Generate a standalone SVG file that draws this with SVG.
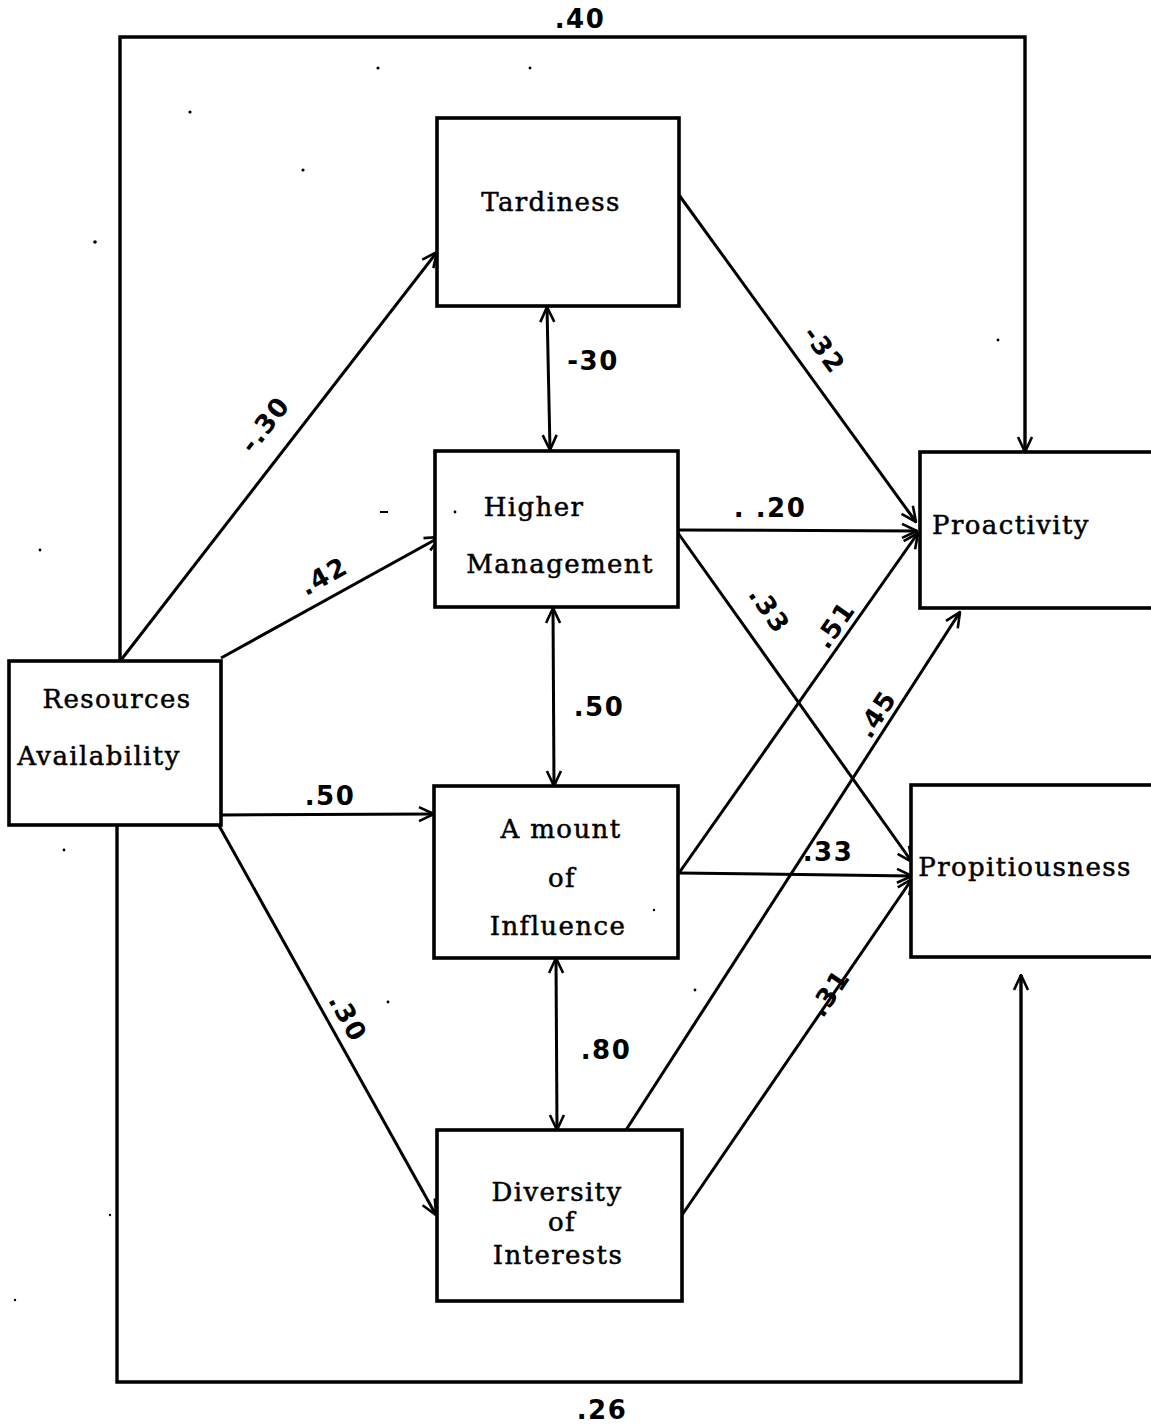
<svg xmlns="http://www.w3.org/2000/svg" width="1151" height="1425" viewBox="0 0 1151 1425">
  <style>
    .box { fill: #fff; stroke: #000; stroke-width: 3.6; }
    .name { font-family: "DejaVu Serif", "Liberation Serif", serif; font-size: 26px; fill: #000; stroke: #000; stroke-width: 0.5; text-anchor: middle; letter-spacing: 1.4px; }
    .edge { fill: none; stroke: #000; stroke-width: 3; }
    .loop { fill: none; stroke: #000; stroke-width: 3.4; }
    .num { font-family: "DejaVu Sans", "Liberation Sans", sans-serif; font-size: 26px; font-weight: bold; fill: #000; text-anchor: middle; letter-spacing: 1.5px; }
    .speck { fill: #000; }
  </style>
  <defs>
    <marker id="head" viewBox="0 0 18 18" refX="17" refY="9" markerWidth="18" markerHeight="18" markerUnits="userSpaceOnUse" orient="auto-start-reverse">
      <path d="M2,2 L17,9 L2,16" fill="none" stroke="#000" stroke-width="2.6"/>
    </marker>
  </defs>

  <rect width="1151" height="1425" fill="#fff"/>

  <!-- connectors -->
  <g id="connectors">
    <!-- outer paths -->
    <polyline class="loop" points="120,660 120,37 1025,37 1025,452" marker-end="url(#head)"/>
    <polyline class="loop" points="117,825 117,1382 1021,1382 1021,975" marker-end="url(#head)"/>
    <!-- from Resources Availability -->
    <line class="edge" x1="121" y1="660" x2="437" y2="252" marker-end="url(#head)"/>
    <line class="edge" x1="221" y1="658" x2="440" y2="537" marker-end="url(#head)"/>
    <line class="edge" x1="221" y1="815" x2="434" y2="814" marker-end="url(#head)"/>
    <line class="edge" x1="217" y1="822" x2="436" y2="1215" marker-end="url(#head)"/>
    <!-- correlations between mediators -->
    <line class="edge" x1="547" y1="307" x2="550" y2="450" marker-start="url(#head)" marker-end="url(#head)"/>
    <line class="edge" x1="553" y1="608" x2="554" y2="786" marker-start="url(#head)" marker-end="url(#head)"/>
    <line class="edge" x1="556" y1="958" x2="557" y2="1130" marker-start="url(#head)" marker-end="url(#head)"/>
    <!-- into the outcomes -->
    <line class="edge" x1="679" y1="195" x2="916" y2="522" marker-end="url(#head)"/>
    <line class="edge" x1="678" y1="530" x2="917" y2="531" marker-end="url(#head)"/>
    <line class="edge" x1="678" y1="533" x2="912" y2="862" marker-end="url(#head)"/>
    <line class="edge" x1="679" y1="873" x2="918" y2="533" marker-end="url(#head)"/>
    <line class="edge" x1="679" y1="873" x2="912" y2="876" marker-end="url(#head)"/>
    <line class="edge" x1="626" y1="1130" x2="960" y2="612" marker-end="url(#head)"/>
    <line class="edge" x1="682" y1="1215" x2="912" y2="879" marker-end="url(#head)"/>
  </g>

  <!-- path coefficients -->
  <g id="coefficients">
    <text class="num" x="580" y="28">.40</text>
    <text class="num" x="602" y="1419">.26</text>
    <text class="num" transform="translate(272,430) rotate(-52)">-.30</text>
    <text class="num" transform="translate(328,584) rotate(-29)">.42</text>
    <text class="num" x="330" y="805">.50</text>
    <text class="num" transform="translate(340,1022) rotate(61)">.30</text>
    <text class="num" x="593" y="370">-30</text>
    <text class="num" x="599" y="716">.50</text>
    <text class="num" x="606" y="1059">.80</text>
    <text class="num" transform="translate(817,355) rotate(54)">-32</text>
    <text class="num" x="770" y="517">.  .20</text>
    <text class="num" transform="translate(762,615) rotate(55)">.33</text>
    <text class="num" transform="translate(842,630) rotate(-55)">.51</text>
    <text class="num" x="828" y="861">.33</text>
    <text class="num" transform="translate(884,719) rotate(-57)">.45</text>
    <text class="num" transform="translate(837,998) rotate(-56)">.31</text>
  </g>

  <!-- nodes -->
  <g id="resources">
    <rect class="box" x="9" y="661" width="212" height="164"/>
    <text class="name" x="117" y="708">Resources</text>
    <text class="name" x="99" y="765">Availability</text>
  </g>
  <g id="tardiness">
    <rect class="box" x="437" y="118" width="242" height="188"/>
    <text class="name" x="551" y="211">Tardiness</text>
  </g>
  <g id="higher-management">
    <rect class="box" x="435" y="451" width="243" height="156"/>
    <text class="name" x="534" y="516">Higher</text>
    <text class="name" x="560" y="573">Management</text>
  </g>
  <g id="amount-of-influence">
    <rect class="box" x="434" y="786" width="244" height="172"/>
    <text class="name" x="561" y="838">A mount</text>
    <text class="name" x="562" y="887">of</text>
    <text class="name" x="558" y="935">Influence</text>
  </g>
  <g id="diversity-of-interests">
    <rect class="box" x="437" y="1130" width="245" height="171"/>
    <text class="name" x="557" y="1201">Diversity</text>
    <text class="name" x="562" y="1231">of</text>
    <text class="name" x="558" y="1264">Interests</text>
  </g>
  <g id="proactivity">
    <rect class="box" x="920" y="452" width="240" height="156"/>
    <text class="name" x="1011" y="534">Proactivity</text>
  </g>
  <g id="propitiousness">
    <rect class="box" x="911" y="785" width="249" height="172"/>
    <text class="name" x="1025" y="876">Propitiousness</text>
  </g>

  <!-- loose specks on the sheet -->
  <g id="specks">
    <circle class="speck" cx="378" cy="68" r="1.6"/>
    <circle class="speck" cx="530" cy="68" r="1.4"/>
    <circle class="speck" cx="190" cy="112" r="1.6"/>
    <circle class="speck" cx="303" cy="170" r="1.6"/>
    <circle class="speck" cx="95" cy="242" r="1.8"/>
    <circle class="speck" cx="40" cy="550" r="1.4"/>
    <circle class="speck" cx="998" cy="340" r="1.4"/>
    <circle class="speck" cx="64" cy="850" r="1.4"/>
    <circle class="speck" cx="455" cy="512" r="1.4"/>
    <rect class="speck" x="380" y="511" width="8" height="2"/>
    <circle class="speck" cx="654" cy="910" r="1.2"/>
    <circle class="speck" cx="388" cy="1002" r="1.4"/>
    <circle class="speck" cx="695" cy="990" r="1.4"/>
    <circle class="speck" cx="110" cy="1215" r="1.2"/>
    <circle class="speck" cx="15" cy="1300" r="1.2"/>
  </g>
</svg>
